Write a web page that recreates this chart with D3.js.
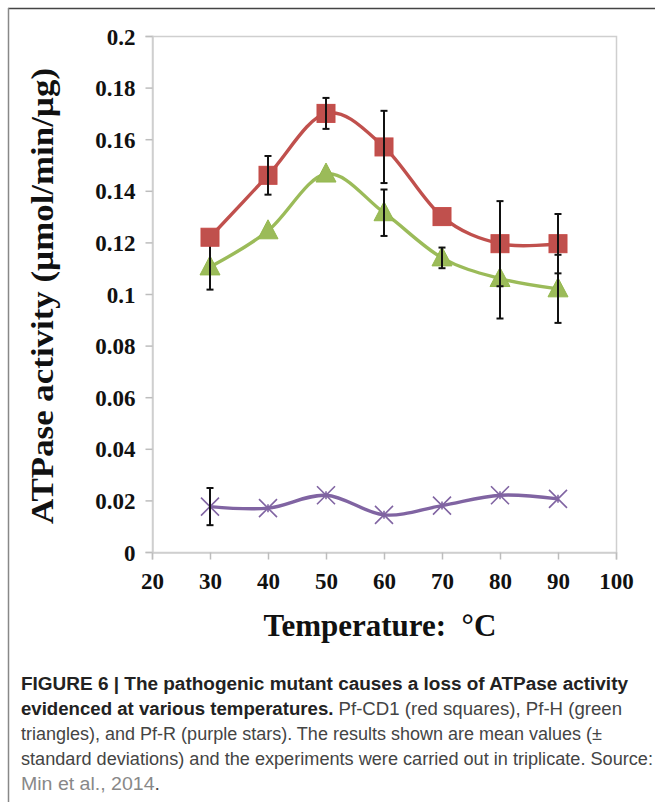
<!DOCTYPE html>
<html>
<head>
<meta charset="utf-8">
<script src="https://cdn.jsdelivr.net/npm/d3@7"></script>
<style>
  body { margin: 0; background: #fff; }
  svg { display: block; }
</style>
</head>
<body>
<svg class="chart" width="655" height="802"></svg>
<script>
// data
var temps = [30, 40, 50, 60, 70, 80, 90];
var pfCD1 = [0.122, 0.146, 0.170, 0.157, 0.130, 0.1195, 0.1195];
var pfCD1Err = [0, 0.0075, 0.006, 0.014, 0, 0.0165, 0.0115];
var pfH = [0.1105, 0.1245, 0.1465, 0.1315, 0.114, 0.106, 0.102];
var pfHErr = [0.0088, 0, 0, 0.009, 0.004, 0.0155, 0.0132];
var pfR = [0.0176, 0.017, 0.022, 0.0144, 0.018, 0.022, 0.0206];
var pfRErr = [0.0072, 0, 0, 0, 0, 0, 0];
var xTicks = [20, 30, 40, 50, 60, 70, 80, 90, 100];
var yTicks = [0, 0.02, 0.04, 0.06, 0.08, 0.1, 0.12, 0.14, 0.16, 0.18, 0.2];

var svg = d3.select(".chart");

// frame lines of the figure box
svg.append("line").attr("x1", 8).attr("x2", 655).attr("y1", 8.5).attr("y2", 8.5)
    .attr("stroke", "#444").attr("stroke-width", 1.5);
svg.append("line").attr("x1", 8.5).attr("x2", 8.5).attr("y1", 8).attr("y2", 802)
    .attr("stroke", "#888").attr("stroke-width", 1.5);

var pLeft = 152, pRight = 616, pTop = 36, pBottom = 552;

var x = d3.scaleLinear().domain([20, 100]).range([pLeft, pRight]);
var y = d3.scaleLinear().domain([0, 0.2]).range([pBottom, pTop]);

// plot box
svg.append("rect")
    .attr("x", pLeft + 0.5).attr("y", pTop + 0.5)
    .attr("width", pRight - pLeft).attr("height", pBottom - pTop)
    .attr("fill", "none").attr("stroke", "#cfcfcf").attr("stroke-width", 1.5);

var yAxis = svg.append("g")
    .attr("transform", "translate(" + (pLeft + 0.5) + ",0)")
    .call(d3.axisLeft(y).tickValues(yTicks).tickSize(7).tickPadding(10)
        .tickFormat(function(d) { return String(+d.toFixed(2)); }));
var xAxis = svg.append("g")
    .attr("transform", "translate(0," + (pBottom + 0.5) + ")")
    .call(d3.axisBottom(x).tickValues(xTicks).tickSize(7).tickPadding(11));

[xAxis, yAxis].forEach(function(a) {
  a.select(".domain").attr("stroke", "#cfcfcf").attr("stroke-width", 1.5);
  a.selectAll(".tick line").attr("stroke", "#bdbdbd").attr("stroke-width", 1.5);
  a.selectAll(".tick text")
      .attr("fill", "#111")
      .style("font-family", "'Liberation Serif', 'Times New Roman', serif")
      .style("font-weight", "bold")
      .style("font-size", "23px");
});
yAxis.selectAll(".tick text").attr("dy", "0.35em");
xAxis.selectAll(".tick text").attr("dy", "0.8em");

// axis titles
svg.append("text")
    .attr("transform", "translate(53,296) rotate(-90)")
    .attr("text-anchor", "middle")
    .attr("textLength", 456)
    .attr("lengthAdjust", "spacingAndGlyphs")
    .style("font-family", "'Liberation Serif', 'Times New Roman', serif")
    .style("font-weight", "bold").style("font-size", "32px")
    .attr("fill", "#111")
    .text("ATPase activity (µmol/min/µg)");

svg.append("text")
    .attr("x", 380).attr("y", 636)
    .attr("text-anchor", "middle")
    .style("font-family", "'Liberation Serif', 'Times New Roman', serif")
    .style("font-weight", "bold").style("font-size", "31px")
    .attr("fill", "#111")
    .attr("xml:space", "preserve")
    .text("Temperature:  °C");

var line = d3.line()
    .x(function(d) { return x(d[0]); })
    .y(function(d) { return y(d[1]); })
    .curve(d3.curveCardinal.tension(0));

var series = [
  { name: "Pf-R", vals: pfR, err: pfRErr, color: "#8064a2", marker: "star" },
  { name: "Pf-H", vals: pfH, err: pfHErr, color: "#9bbb59", marker: "triangle" },
  { name: "Pf-CD1", vals: pfCD1, err: pfCD1Err, color: "#c0504d", marker: "square" }
];

series.forEach(function(s) {
  var pts = temps.map(function(t, i) { return [t, s.vals[i], s.err[i]]; });
  var g = svg.append("g").attr("class", "series");

  g.append("path")
      .attr("d", line(pts))
      .attr("fill", "none")
      .attr("stroke", s.color)
      .attr("stroke-width", 3.4);

  var m = g.selectAll(".mk").data(pts).enter().append("g")
      .attr("class", "mk")
      .attr("transform", function(d) { return "translate(" + x(d[0]) + "," + y(d[1]) + ")"; });

  if (s.marker === "square") {
    m.append("rect").attr("x", -9).attr("y", -9).attr("width", 18).attr("height", 18)
        .attr("fill", s.color).attr("stroke", "#c64a47").attr("stroke-width", 1);
  } else if (s.marker === "triangle") {
    m.append("path").attr("d", "M0,-11L10,8L-10,8Z")
        .attr("fill", s.color).attr("stroke", "#94b84e").attr("stroke-width", 1);
  } else {
    m.append("path").attr("d", "M-9,-9L9,9M-9,9L9,-9M0,-4L0,4")
        .attr("fill", "none").attr("stroke", s.color).attr("stroke-width", 1.6);
  }

  // error bars
  var e = g.selectAll(".err").data(pts.filter(function(d) { return d[2] > 0; }))
      .enter().append("g").attr("class", "err")
      .attr("stroke", "#111").attr("stroke-width", 2);
  e.append("line")
      .attr("x1", function(d) { return x(d[0]); }).attr("x2", function(d) { return x(d[0]); })
      .attr("y1", function(d) { return y(d[1] + d[2]); })
      .attr("y2", function(d) { return y(d[1] - d[2]); });
  e.append("line")
      .attr("x1", function(d) { return x(d[0]) - 3.5; }).attr("x2", function(d) { return x(d[0]) + 3.5; })
      .attr("y1", function(d) { return y(d[1] + d[2]); })
      .attr("y2", function(d) { return y(d[1] + d[2]); });
  e.append("line")
      .attr("x1", function(d) { return x(d[0]) - 3.5; }).attr("x2", function(d) { return x(d[0]) + 3.5; })
      .attr("y1", function(d) { return y(d[1] - d[2]); })
      .attr("y2", function(d) { return y(d[1] - d[2]); });
});

// caption
var capLines = [
  { y: 690, w: 607, parts: [["FIGURE 6 | The pathogenic mutant causes a loss of ATPase activity", "bold", "#222"]] },
  { y: 715, w: 601, parts: [["evidenced at various temperatures.", "bold", "#222"], [" Pf-CD1 (red squares), Pf-H (green", "normal", "#444"]] },
  { y: 740, w: 581, parts: [["triangles), and Pf-R (purple stars). The results shown are mean values (±", "normal", "#444"]] },
  { y: 765, w: 632, parts: [["standard deviations) and the experiments were carried out in triplicate. Source:", "normal", "#444"]] },
  { y: 790, w: 139, parts: [["Min et al., 2014", "normal", "#888"], [".", "normal", "#444"]] }
];

capLines.forEach(function(l) {
  var t = svg.append("text")
      .attr("x", 21).attr("y", l.y)
      .attr("xml:space", "preserve")
      .attr("textLength", l.w)
      .attr("lengthAdjust", "spacingAndGlyphs")
      .style("font-family", "'Liberation Sans', Arial, sans-serif")
      .style("font-size", "17.5px");
  l.parts.forEach(function(p) {
    t.append("tspan").style("font-weight", p[1]).attr("fill", p[2]).text(p[0]);
  });
});
</script>
</body>
</html>
